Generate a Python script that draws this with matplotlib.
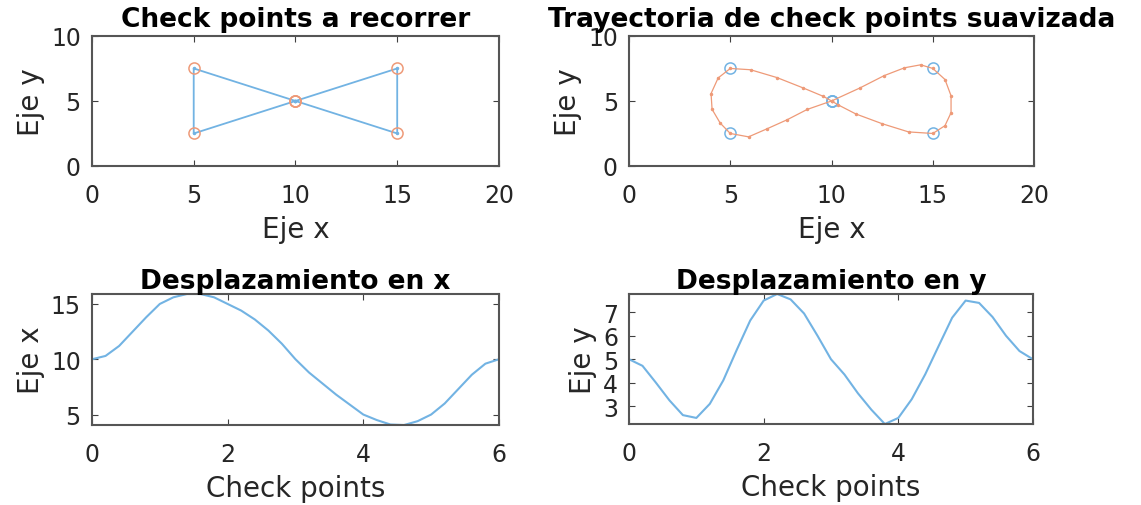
import numpy as np
import matplotlib
matplotlib.use("Agg")
import matplotlib.pyplot as plt

plt.rcParams['font.family'] = ['DejaVu Sans']

# check points (order of the route)
cp_t = [0, 1, 2, 3, 4, 5, 6]
cp_x = [10, 15, 15, 10, 5, 5, 10]
cp_y = [5, 2.5, 7.5, 5, 2.5, 7.5, 5]

# smoothed trajectory (step 0.2)
traj_t = [0.0, 0.2, 0.4, 0.6, 0.8, 1.0, 1.2, 1.4, 1.6, 1.8, 2.0, 2.2, 2.4, 2.6, 2.8, 3.0,
          3.2, 3.4, 3.6, 3.8, 4.0, 4.2, 4.4, 4.6, 4.8, 5.0, 5.2, 5.4, 5.6, 5.8, 6.0]
traj_x = [10.0, 10.3, 11.2, 12.5, 13.8, 15.0, 15.6, 15.9, 15.9, 15.6, 15.0, 14.4, 13.6, 12.6, 11.4, 10.0,
          8.8, 7.8, 6.8, 5.9, 5.0, 4.5, 4.1, 4.05, 4.4, 5.0, 6.0, 7.3, 8.6, 9.6, 10.0]
traj_y = [5.0, 4.72, 4.0, 3.25, 2.62, 2.5, 3.1, 4.1, 5.4, 6.65, 7.5, 7.78, 7.55, 6.95, 6.0, 5.0,
          4.35, 3.55, 2.85, 2.24, 2.5, 3.3, 4.36, 5.57, 6.77, 7.5, 7.4, 6.8, 6.0, 5.35, 5.0]

blue = '#72b3e3'
orange = '#ee9a78'
fs_tick = 17
fs_lab = 20
fs_title = 19

fig = plt.figure(figsize=(11.41, 5.06), dpi=100)

def style(ax, title, xlab, ylab, tpad=4):
    ax.tick_params(direction='in', top=True, right=True, labelsize=fs_tick, length=4,
                   color='#404040', labelcolor='#262626')
    ax.tick_params(axis='x', pad=12)
    ax.tick_params(axis='y', pad=8)
    for s in ax.spines.values():
        s.set_color('#555555')
        s.set_linewidth(1.5)
    ax.set_title(title, fontsize=fs_title, fontweight='bold', pad=tpad)
    ax.set_xlabel(xlab, fontsize=fs_lab, color='#262626', labelpad=6)
    ax.set_ylabel(ylab, fontsize=fs_lab, color='#262626', labelpad=4)

ax1 = fig.add_axes([0.0806, 0.670, 0.3567, 0.257])
ax1.plot(cp_x, cp_y, '.-', color=blue, lw=1.3, ms=3)
ax1.plot(cp_x, cp_y, 'o', color=orange, mfc='none', ms=8, mew=1.1)
ax1.set_xlim(0, 20)
ax1.set_ylim(0, 10)
ax1.set_xticks([0, 5, 10, 15, 20])
ax1.set_yticks([0, 5, 10])
style(ax1, 'Check points a recorrer', 'Eje x', 'Eje y', tpad=7)

ax2 = fig.add_axes([0.5513, 0.670, 0.355, 0.257])
ax2.plot(cp_x, cp_y, 'o', color=blue, mfc='none', ms=8, mew=1.1)
ax2.plot(traj_x, traj_y, '.-', color=orange, lw=0.9, ms=3)
ax2.set_xlim(0, 20)
ax2.set_ylim(0, 10)
ax2.set_xticks([0, 5, 10, 15, 20])
ax2.set_yticks([0, 5, 10])
style(ax2, 'Trayectoria de check points suavizada', 'Eje x', 'Eje y', tpad=7)

ax3 = fig.add_axes([0.0806, 0.158, 0.3567, 0.259])
ax3.plot(traj_t, traj_x, '-', color=blue, lw=1.5)
ax3.set_xlim(0, 6)
ax3.set_ylim(min(traj_x), max(traj_x))
ax3.set_xticks([0, 2, 4, 6])
ax3.set_yticks([5, 10, 15])
style(ax3, 'Desplazamiento en x', 'Check points', 'Eje x')

ax4 = fig.add_axes([0.5513, 0.160, 0.354, 0.257])
ax4.plot(traj_t, traj_y, '-', color=blue, lw=1.5)
ax4.set_xlim(0, 6)
ax4.set_ylim(min(traj_y), max(traj_y))
ax4.set_xticks([0, 2, 4, 6])
ax4.set_yticks([3, 4, 5, 6, 7])
style(ax4, 'Desplazamiento en y', 'Check points', 'Eje y')

fig.savefig('out.png', dpi=100)
